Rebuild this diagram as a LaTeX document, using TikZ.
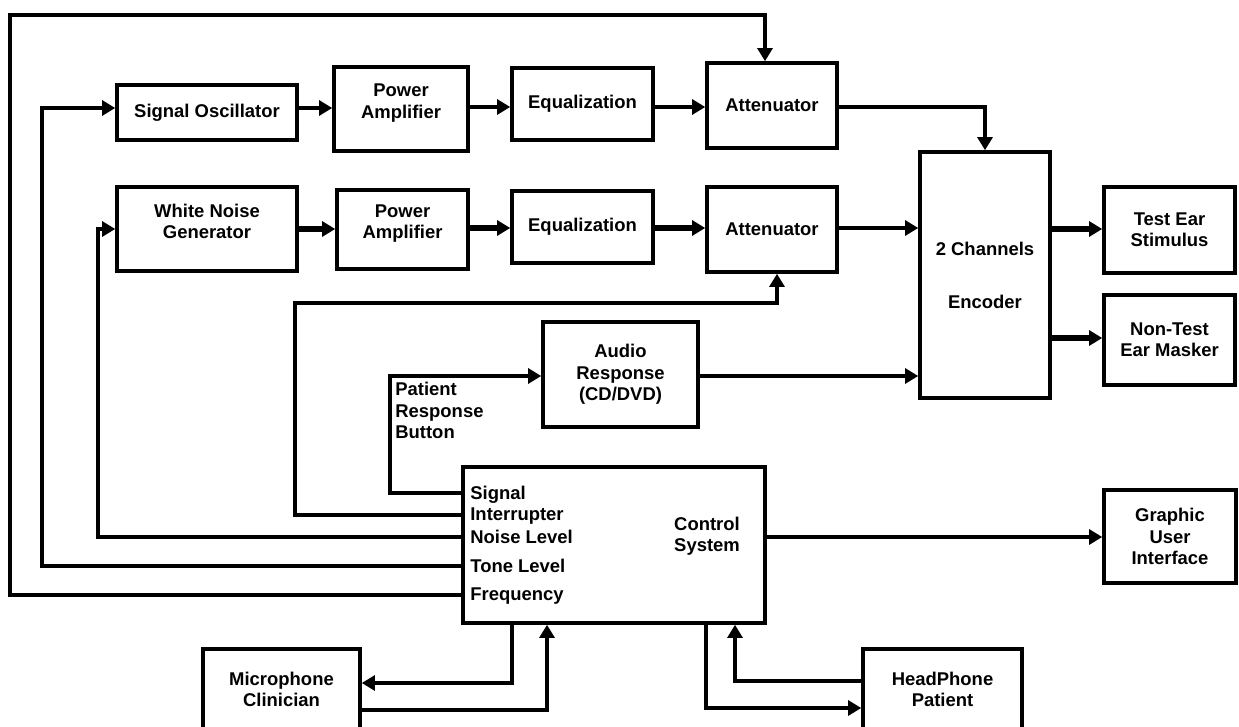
\documentclass[tikz,border=0pt]{standalone}
\usepackage{fontspec}
\setmainfont{Liberation Sans}
\usetikzlibrary{arrows.meta}
\begin{document}
\begin{tikzpicture}[x=0.02cm,y=-0.02cm,
  box/.style={draw=black,line width=2pt,fill=white,align=center,inner sep=2pt,
    font=\fontsize{10.5}{12.2}\selectfont\bfseries},
  raised/.style={text depth=9pt},
  lbl/.style={inner sep=0pt,align=left,font=\fontsize{10.5}{12.2}\selectfont\bfseries},
  wire/.style={line width=2.1pt,draw=black},
  wireB/.style={line width=2.6pt,draw=black},
  wireC/.style={line width=3.1pt,draw=black},
  tip/.style={-{Triangle[length=7.5pt,width=8.5pt]}}
]
\useasboundingbox (0,0) rectangle (1239,726);
\clip (0,0) rectangle (1239,726);

% boxes
\node[box,minimum width=3.60cm,minimum height=1.10cm] (so)  at (207,112.5) {Signal Oscillator};
\node[box,raised,minimum width=2.68cm,minimum height=1.68cm] (pa1) at (401,109) {Power\\Amplifier};
\node[box,minimum width=2.82cm,minimum height=1.44cm] (eq1) at (582.5,104) {Equalization};
\node[box,minimum width=2.60cm,minimum height=1.70cm] (at1) at (772,105.5) {Attenuator};
\node[box,raised,minimum width=3.60cm,minimum height=1.68cm] (wn)  at (207,229) {White Noise\\Generator};
\node[box,raised,minimum width=2.62cm,minimum height=1.58cm] (pa2) at (402.5,229.5) {Power\\Amplifier};
\node[box,minimum width=2.82cm,minimum height=1.44cm] (eq2) at (582.5,227) {Equalization};
\node[box,minimum width=2.60cm,minimum height=1.70cm] (at2) at (772,229.5) {Attenuator};
\node[box,minimum width=2.60cm,minimum height=4.92cm] (enc) at (985,275) {2 Channels\\[18pt]Encoder};
\node[box,minimum width=2.62cm,minimum height=1.72cm] (tes) at (1169.5,230) {Test Ear\\Stimulus};
\node[box,minimum width=2.62cm,minimum height=1.80cm] (nte) at (1169.5,340) {Non-Test\\Ear Masker};
\node[box,minimum width=3.10cm,minimum height=2.10cm] (aud) at (620.5,374.5) {Audio\\Response\\(CD/DVD)};
\node[box,minimum width=6.04cm,minimum height=3.12cm] (cs)  at (614,545) {};
\node[box,minimum width=2.64cm,minimum height=1.86cm] (gui) at (1170,536.5) {Graphic\\User\\Interface};
\node[box,minimum width=3.14cm,minimum height=1.62cm] (mic) at (281.5,689.5) {Microphone\\Clinician};
\node[box,minimum width=3.18cm,minimum height=1.62cm] (hp)  at (942.5,689.5) {HeadPhone\\Patient};

% texts inside control system and free labels
\node[lbl,align=center] (csT) at (707,536) {Control\\System};
\node[lbl,anchor=west] (lSig)   at (470,505) {Signal\\Interrupter};
\node[lbl,anchor=west] (lNoise) at (470,537) {Noise Level};
\node[lbl,anchor=west] (lTone)  at (470,566) {Tone Level};
\node[lbl,anchor=west] (lFreq)  at (470,596) {Frequency};
\node[lbl,anchor=north west] (lPat) at (395,382) {Patient\\Response\\Button};

% port and bend coordinates
\coordinate (pSig)   at (cs.west |- 0,493);
\coordinate (pInt)   at (cs.west |- 0,515);
\coordinate (pNoise) at (cs.west |- 0,537);
\coordinate (pTone)  at (cs.west |- 0,566);
\coordinate (pFreq)  at (cs.west |- 0,595);
\coordinate (kFreq)  at (10,15);
\coordinate (kAt1)   at (765,15);
\coordinate (kTone)  at (42,108);
\coordinate (kNoise) at (98,229);
\coordinate (kInt)   at (295,303);
\coordinate (kAt2)   at (777,303);
\coordinate (kPat)   at (390,376);
\coordinate (kTop)   at (985,107);
\coordinate (kMicA)  at (512,683);
\coordinate (kMicB)  at (547,710);
\coordinate (kHpA)   at (706,708);
\coordinate (kHpB)   at (735,681);

% control loops
\draw[wire,tip] (pFreq) -| (kFreq) -- (kAt1) -- (kAt1 |- at1.north);
\draw[wire,tip] (pTone) -| (kTone) -- (so.west |- kTone);
\draw[wire,tip] (pNoise) -| (kNoise) -- (wn.west |- kNoise);
\draw[wire,tip] (pInt) -| (kInt) -- (kAt2) -- (kAt2 |- at2.south);
\draw[wire,tip] (pSig) -| (kPat) -- (aud.west |- kPat);

% top chain
\draw[wireB,tip] (so.east |- 0,108) -- (pa1.west |- 0,108);
\draw[wireB,tip] (pa1.east |- 0,107) -- (eq1.west |- 0,107);
\draw[wire,tip]  (eq1.east |- 0,107) -- (at1.west |- 0,107);
\draw[wire,tip]  (at1.east |- kTop) -- (kTop) -- (enc.north);

% second chain
\draw[wireC,tip] (wn.east |- 0,229) -- (pa2.west |- 0,229);
\draw[wireC,tip] (pa2.east |- 0,228) -- (eq2.west |- 0,228);
\draw[wireC,tip] (eq2.east |- 0,228) -- (at2.west |- 0,228);
\draw[wireB,tip] (at2.east |- 0,228) -- (enc.west |- 0,228);

% audio to encoder, encoder outputs
\draw[wire,tip]  (aud.east |- kPat) -- (enc.west |- kPat);
\draw[wireC,tip] (enc.east |- 0,229) -- (tes.west |- 0,229);
\draw[wireC,tip] (enc.east |- 0,338) -- (nte.west |- 0,338);

% control system outputs
\draw[wire,tip]  (cs.east |- 0,537) -- (gui.west |- 0,537);
\draw[wireB,tip] (cs.south -| kMicA) -- (kMicA) -- (mic.east |- kMicA);
\draw[wireB,tip] (mic.east |- kMicB) -- (kMicB) -- (kMicB |- cs.south);
\draw[wireB,tip] (cs.south -| kHpA) -- (kHpA) -- (hp.west |- kHpA);
\draw[wireB,tip] (hp.west |- kHpB) -- (kHpB) -- (kHpB |- cs.south);
\end{tikzpicture}
\end{document}
